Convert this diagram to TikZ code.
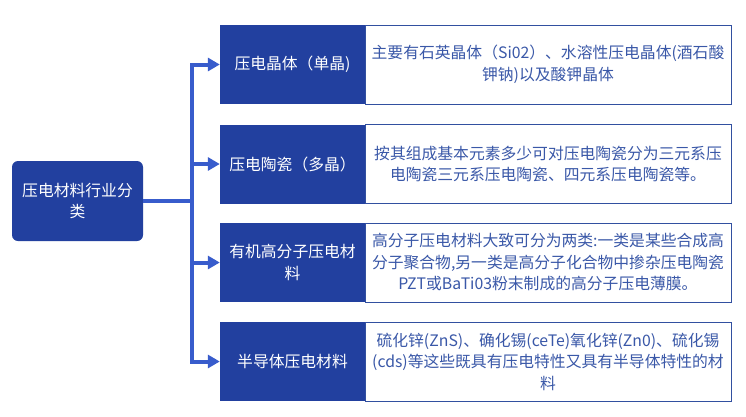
\documentclass[tikz,border=0pt]{standalone}
\usepackage{fontspec}
\setmainfont{Noto Sans CJK SC}
\usetikzlibrary{arrows.meta}
\definecolor{darkblue}{RGB}{34,64,159}
\definecolor{connblue}{RGB}{56,92,204}
\definecolor{txtblue}{RGB}{58,88,168}
\definecolor{bordblue}{RGB}{50,80,160}
\begin{document}
\begin{tikzpicture}[x=1pt,y=-1pt,
  txt/.style={font=\fontsize{15.8}{21.5}\selectfont, align=center, inner sep=0pt},
  rootbox/.style={txt, fill=darkblue, rounded corners=6pt, minimum width=131pt, minimum height=80pt, text=white},
  catbox/.style={txt, fill=darkblue, minimum width=145pt, minimum height=79pt, text=white},
  descbox/.style={txt, draw=bordblue, line width=1pt, fill=white, minimum width=366pt, minimum height=79pt, text=txtblue},
  conn/.style={draw=connblue, line width=4pt},
  arr/.style={conn, -{Triangle[length=12pt,width=13pt]}}]
\useasboundingbox[fill=white] (0,0) rectangle (746,416);

\node[rootbox] (root) at (77.5,201) {压电材料行业分\\类};

\node[descbox] (d1) at (548,64.5) {主要有石英晶体（Si02）、水溶性压电晶体(酒石酸\\钾钠)以及酸钾晶体};
\node[descbox] (d2) at (548,164) {按其组成基本元素多少可对压电陶瓷分为三元系压\\电陶瓷三元系压电陶瓷、四元系压电陶瓷等。};
\node[descbox] (d3) at (548,262.5) {高分子压电材料大致可分为两类:一类是某些合成高\\分子聚合物,另一类是高分子化合物中掺杂压电陶瓷\\PZT或BaTi03粉末制成的高分子压电薄膜。};
\node[descbox] (d4) at (548,361.5) {硫化锌(ZnS)、确化锡(ceTe)氧化锌(Zn0)、硫化锡\\(cds)等这些既具有压电特性又具有半导体特性的材\\料};

\node[catbox] (c1) at (292.5,64.5) {压电晶体（单晶)};
\node[catbox] (c2) at (292.5,164) {压电陶瓷（多晶）};
\node[catbox] (c3) at (292.5,262.5) {有机高分子压电材\\料};
\node[catbox] (c4) at (292.5,361.5) {半导体压电材料};

\coordinate (trunk) at (192,0);
\coordinate (j) at (root.east -| trunk);
\draw[conn] (root.east) -- (j);
\draw[arr] (j) |- (c1.west);
\draw[arr] (j) |- (c2.west);
\draw[arr] (j) |- (c3.west);
\draw[arr] (j) |- (c4.west);
\end{tikzpicture}
\end{document}
